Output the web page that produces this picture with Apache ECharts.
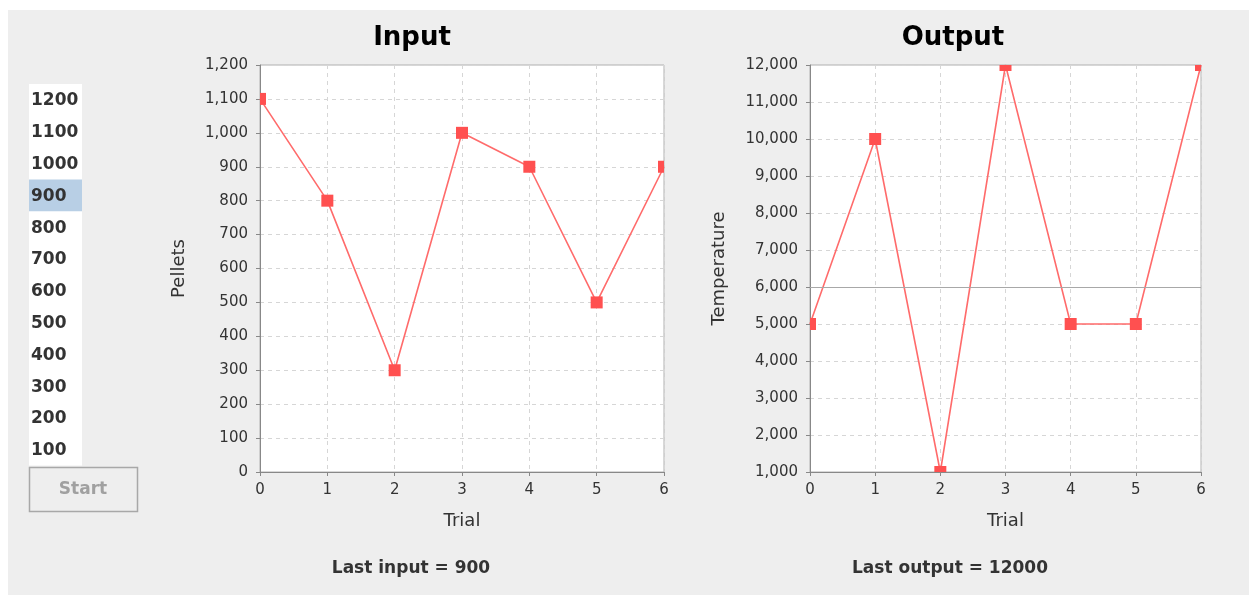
<!DOCTYPE html>
<html>
<head>
<meta charset="utf-8">
<script src="https://cdn.jsdelivr.net/npm/echarts@6/dist/echarts.min.js"></script>
<style>
  html, body { margin: 0; padding: 0; background: #ffffff; }
  #panel { position: absolute; left: 8px; top: 10px; width: 1241px; height: 585px; background: #eeeeee; }
  #chart { position: absolute; left: 0; top: 0; width: 1249px; height: 595px; }
</style>
</head>
<body>
<div id="panel"></div>
<div id="chart"></div>
<script>
// ---- data ----
const trials = [0, 1, 2, 3, 4, 5, 6];
const inputValues = [1100, 800, 300, 1000, 900, 500, 900];
const outputValues = [5000, 10000, 1000, 12000, 5000, 5000, 12000];
const targetOutput = 6000;
const listItems = [1200, 1100, 1000, 900, 800, 700, 600, 500, 400, 300, 200, 100];
const selectedItem = 900;
const lastInput = 900;
const lastOutput = 12000;

const FONT = 'DejaVu Sans';
const lineColor = '#ff6b6b';
const markColor = '#ff5050';

const toPairs = (xs, ys) => xs.map((x, i) => [x, ys[i]]);
const fmt = v => String(v).replace(/\B(?=(\d{3})+(?!\d))/g, ',');

function axisX(gridIndex) {
  return {
    type: 'value', gridIndex, min: 0, max: 6, interval: 1,
    name: 'Trial', nameLocation: 'middle', nameGap: 40,
    nameTextStyle: { fontFamily: FONT, fontSize: 18, color: '#333' },
    axisLine: { show: true, lineStyle: { color: '#888', width: 1 } },
    axisTick: { show: true, length: 4, lineStyle: { color: '#888' } },
    axisLabel: { fontFamily: FONT, fontSize: 15, color: '#333', margin: 11, showMinLabel: true, showMaxLabel: true },
    splitLine: { show: true, lineStyle: { color: '#d6d6d6', type: [4, 4], width: 1 } }
  };
}
function axisY(gridIndex, name, min, max, interval, gap) {
  return {
    type: 'value', gridIndex, min, max, interval,
    name, nameLocation: 'middle', nameGap: gap, nameRotate: 90,
    nameTextStyle: { fontFamily: FONT, fontSize: 18, color: '#333' },
    axisLine: { show: true, lineStyle: { color: '#888', width: 1 } },
    axisTick: { show: true, length: 4, lineStyle: { color: '#888' } },
    axisLabel: { fontFamily: FONT, fontSize: 15, color: '#333', margin: 12, formatter: fmt, showMinLabel: true, showMaxLabel: true },
    splitLine: { show: true, lineStyle: { color: '#d6d6d6', type: [4, 4], width: 1 } }
  };
}
function squareSeries(xi, yi, data) {
  return {
    type: 'custom', xAxisIndex: xi, yAxisIndex: yi, data, clip: true, z: 5,
    renderItem: (params, api) => {
      const p = api.coord([api.value(0), api.value(1)]);
      return { type: 'rect', shape: { x: p[0] - 6, y: p[1] - 6, width: 12, height: 12 }, style: { fill: markColor } };
    }
  };
}

// list graphic
const listTop = 84, rowH = 31.8, listLeft = 29, listW = 53;
const graphics = [
  { type: 'text', position: [412, 38], style: { text: 'Input', fontFamily: FONT, fontWeight: 'bold', fontSize: 26, fill: '#000', align: 'center', verticalAlign: 'middle' } },
  { type: 'text', position: [953, 38], style: { text: 'Output', fontFamily: FONT, fontWeight: 'bold', fontSize: 26, fill: '#000', align: 'center', verticalAlign: 'middle' } },
  { type: 'text', position: [411, 569], style: { text: 'Last input = ' + lastInput, fontFamily: FONT, fontWeight: 'bold', fontSize: 17, fill: '#333', align: 'center', verticalAlign: 'middle' } },
  { type: 'text', position: [950, 569], style: { text: 'Last output = ' + lastOutput, fontFamily: FONT, fontWeight: 'bold', fontSize: 17, fill: '#333', align: 'center', verticalAlign: 'middle' } },
  { type: 'rect', shape: { x: listLeft, y: listTop, width: listW, height: rowH * listItems.length }, style: { fill: '#ffffff' } }
];
listItems.forEach((v, i) => {
  const y = listTop + i * rowH;
  if (v === selectedItem) {
    graphics.push({ type: 'rect', shape: { x: listLeft, y: y, width: listW, height: rowH }, style: { fill: '#b8cfe5' } });
  }
  graphics.push({ type: 'text', position: [listLeft + 2, y + rowH / 2 + 1], style: { text: String(v), fontFamily: FONT, fontWeight: 'bold', fontSize: 17, fill: '#333', align: 'left', verticalAlign: 'middle' } });
});
graphics.push({ type: 'rect', shape: { x: 29.5, y: 467.5, width: 108, height: 44 }, style: { fill: '#eeeeee', stroke: '#a8a8a8', lineWidth: 1.5 } });
graphics.push({ type: 'text', position: [83, 490], style: { text: 'Start', fontFamily: FONT, fontWeight: 'bold', fontSize: 17, fill: '#a0a0a0', align: 'center', verticalAlign: 'middle' } });

const chart = echarts.init(document.getElementById('chart'), null, { renderer: 'canvas' });
chart.setOption({
  backgroundColor: 'transparent',
  animation: false,
  grid: [
    { left: 260, top: 65, width: 404, height: 407, show: true, backgroundColor: '#ffffff', borderColor: '#b0b0b0', borderWidth: 1 },
    { left: 810, top: 65, width: 391, height: 407, show: true, backgroundColor: '#ffffff', borderColor: '#b0b0b0', borderWidth: 1 }
  ],
  xAxis: [axisX(0), axisX(1)],
  yAxis: [axisY(0, 'Pellets', 0, 1200, 100, 72), axisY(1, 'Temperature', 1000, 12000, 1000, 82)],
  graphic: graphics,
  series: [
    { type: 'line', xAxisIndex: 0, yAxisIndex: 0, data: toPairs(trials, inputValues), showSymbol: false, symbol: 'none', lineStyle: { color: lineColor, width: 1.6 }, clip: true },
    squareSeries(0, 0, toPairs(trials, inputValues)),
    { type: 'line', xAxisIndex: 1, yAxisIndex: 1, data: toPairs(trials, outputValues), showSymbol: false, symbol: 'none', lineStyle: { color: lineColor, width: 1.6 }, clip: true,
      markLine: { silent: true, symbol: 'none', label: { show: false }, lineStyle: { color: '#a8a8a8', type: 'solid', width: 1 }, data: [{ yAxis: targetOutput }] } },
    squareSeries(1, 1, toPairs(trials, outputValues))
  ]
});
</script>
</body>
</html>
